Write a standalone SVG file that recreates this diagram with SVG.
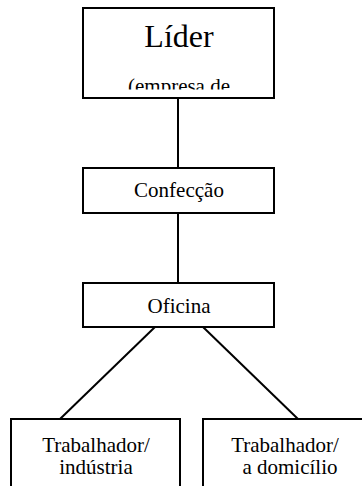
<svg xmlns="http://www.w3.org/2000/svg" width="362" height="486" viewBox="0 0 362 486">
<style>
.box{fill:#fff;stroke:#000;stroke-width:2}
.ln{stroke:#000;stroke-width:2;fill:none}
.t{font-family:"Liberation Serif","Times New Roman",serif;font-size:21px;fill:#000;text-anchor:middle}
.big{font-size:32px}
</style>
<defs>
<clipPath id="clipL"><rect x="84" y="9" width="189" height="80.5"/></clipPath>
</defs>
<g id="connectors">
<line class="ln" x1="178" y1="98" x2="178" y2="168"/>
<line class="ln" x1="178" y1="213" x2="178" y2="283"/>
<line class="ln" x1="155" y1="327" x2="60" y2="419"/>
<line class="ln" x1="203" y1="327" x2="298" y2="419"/>
</g>
<g id="lider">
<rect class="box" x="83" y="8" width="191" height="90"/>
<text class="t big" x="179" y="47">Líder</text>
<text class="t" x="179" y="93" clip-path="url(#clipL)">(empresa de</text>
</g>
<g id="confeccao">
<rect class="box" x="83" y="168" width="191" height="45"/>
<text class="t" x="179" y="197">Confecção</text>
</g>
<g id="oficina">
<rect class="box" x="83" y="283" width="191" height="44"/>
<text class="t" x="179" y="313">Oficina</text>
</g>
<g id="trab-industria">
<rect class="box" x="11" y="419" width="169" height="80"/>
<text class="t" x="96" y="452">Trabalhador/</text>
<text class="t" x="96" y="474">indústria</text>
</g>
<g id="trab-domicilio">
<rect class="box" x="203" y="419" width="170" height="80"/>
<text class="t" x="285" y="452">Trabalhador/</text>
<text class="t" x="290" y="474">a domicílio</text>
</g>
</svg>
